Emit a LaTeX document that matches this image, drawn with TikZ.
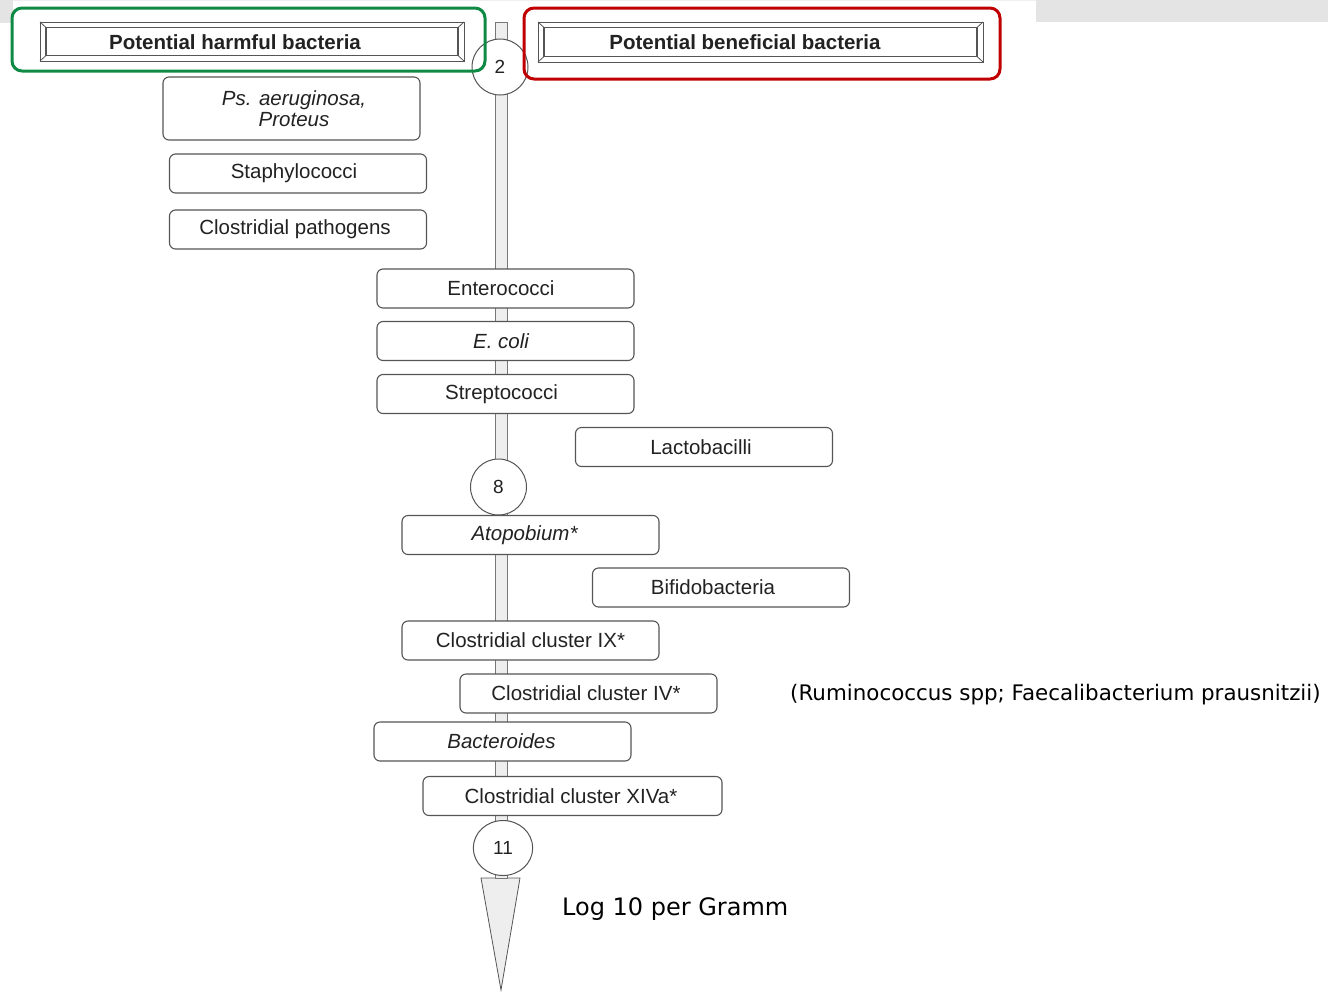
\documentclass[tikz,border=0pt]{standalone}
\usepackage{fontspec}
\setmainfont{Liberation Sans}
\newfontfamily\dejavu{DejaVu Sans}
\definecolor{gframe}{HTML}{0E8A45}
\definecolor{rframe}{HTML}{C00000}
\definecolor{bandgray}{HTML}{E4E4E4}
\definecolor{barfill}{HTML}{EEEEEE}
\definecolor{lineg}{HTML}{555555}
\definecolor{txt}{HTML}{222222}
\newcommand\lsh[2]{\hbox{#2\kern#1pt}}
\begin{document}
\begin{tikzpicture}[x=1pt,y=-1pt,
  bbox/.style={draw=lineg, line width=1.1pt, rounded corners=6pt, fill=white,
    minimum width=257pt, minimum height=39pt, inner sep=0pt, text=txt,
    font=\fontsize{20.5}{22}\selectfont, align=center},
  numcirc/.style={draw=lineg, line width=1pt, fill=white, circle, minimum size=56pt, inner sep=0pt,
    font=\fontsize{19}{20}\selectfont, text=txt},
  frame/.style={rounded corners=10pt, line width=3pt, minimum height=63pt, inner sep=0pt},
  bev/.style={draw=lineg, line width=0.8pt},
  hdr/.style={font=\fontsize{20.5}{22}\selectfont\bfseries, text=txt, inner sep=0pt},
  note/.style={font=\dejavu\fontsize{21.4}{24}\selectfont, text=black, inner sep=0pt, anchor=base west}]
\useasboundingbox (0,0) rectangle (1328,991);
% background bands
\fill[bandgray] (0,0) rectangle (13,23);
\fill[bandgray] (1036,0) rectangle (1328,22);
\fill[bandgray!60] (13,0) rectangle (1036,1.2);
% vertical scale bar
\coordinate (bartop) at (495,22);
\coordinate (barbot) at (507,880);
\draw[draw=lineg!80, fill=barfill, line width=0.8pt] (bartop) rectangle (barbot);
% arrow tip
\coordinate (tl) at (481,878);
\coordinate (tr) at (520,878);
\coordinate (tip) at (501,990);
\draw[draw=lineg, fill=barfill, line width=0.8pt] (tl) -- (tr) -- (tip) -- cycle;
\draw[draw=lineg!80, fill=barfill, line width=0.8pt] (495,870) rectangle (507,878.5);
% number circles
\node[numcirc] (c2) at (500,67) {2};
\node[numcirc] (c8) at (498.5,487) {8};
\node[numcirc, minimum size=55pt, xscale=1.08] (c11) at (503,848) {};
\node[font=\fontsize{19}{20}\selectfont, text=txt] (n11) at (c11) {11};
% header frames
\node[frame, draw=gframe, minimum width=473pt] (gf) at (248.5,39.5) {};
\node[frame, draw=rframe, minimum width=476pt, minimum height=71pt] (rf) at (762,43.5) {};
% bevel boxes
\draw[bev] (40,22) rectangle (464,61);
\draw[bev, line width=1.1pt] (46,27.5) rectangle (458,55.5);
\draw[bev] (40,22) -- (46,27.5) (464,22) -- (458,27.5) (40,61) -- (46,55.5) (464,61) -- (458,55.5);
\draw[bev] (538,22) rectangle (983,62);
\draw[bev, line width=1.1pt] (544,27.5) rectangle (977,56.5);
\draw[bev] (538,22) -- (544,27.5) (983,22) -- (977,27.5) (538,62) -- (544,56.5) (983,62) -- (977,56.5);
\node[hdr] (harm) at (235,42) {Potential harmful bacteria};
\node[hdr] (bene) at (745,42) {Potential beneficial bacteria};
% bacteria boxes
\node[bbox, minimum height=63pt] (ps) at (291.5,108.5) {\itshape\hbox{\kern5pt Ps. aeruginosa,}\\[-1pt]\itshape\hbox{\kern5pt Proteus}};
\node[bbox] (staph) at (298,173.5) {\lsh{8}{Staphylococci}};
\node[bbox] (clp) at (298,229.5) {\lsh{6}{Clostridial pathogens}};
\node[bbox] (ent) at (505.5,288.5) {\lsh{9}{Enterococci}};
\node[bbox] (eco) at (505.5,341) {\lsh{9}{\itshape E. coli}};
\node[bbox] (strep) at (505.5,394) {\lsh{8}{Streptococci}};
\node[bbox] (lacto) at (704,447) {\lsh{6}{Lactobacilli}};
\node[bbox] (atop) at (530.5,535) {\lsh{12}{\itshape Atopobium*}};
\node[bbox] (bifi) at (721,587.5) {\lsh{16}{Bifidobacteria}};
\node[bbox] (c9) at (530.5,640.5) {Clostridial cluster IX*};
\node[bbox] (c4) at (588.5,693.5) {\lsh{5}{Clostridial cluster IV*}};
\node[bbox] (bact) at (502.5,741.5) {\lsh{2}{\itshape Bacteroides}};
\node[bbox, minimum width=299pt] (c14) at (572.5,796) {\lsh{3}{Clostridial cluster XIVa*}};
% annotations
\node[note] (rum) at (790,700) {(Ruminococcus spp; Faecalibacterium prausnitzii)};
\node[note, font=\dejavu\fontsize{24}{26}\selectfont] (log) at (562,915) {Log 10 per Gramm};
\end{tikzpicture}
\end{document}
